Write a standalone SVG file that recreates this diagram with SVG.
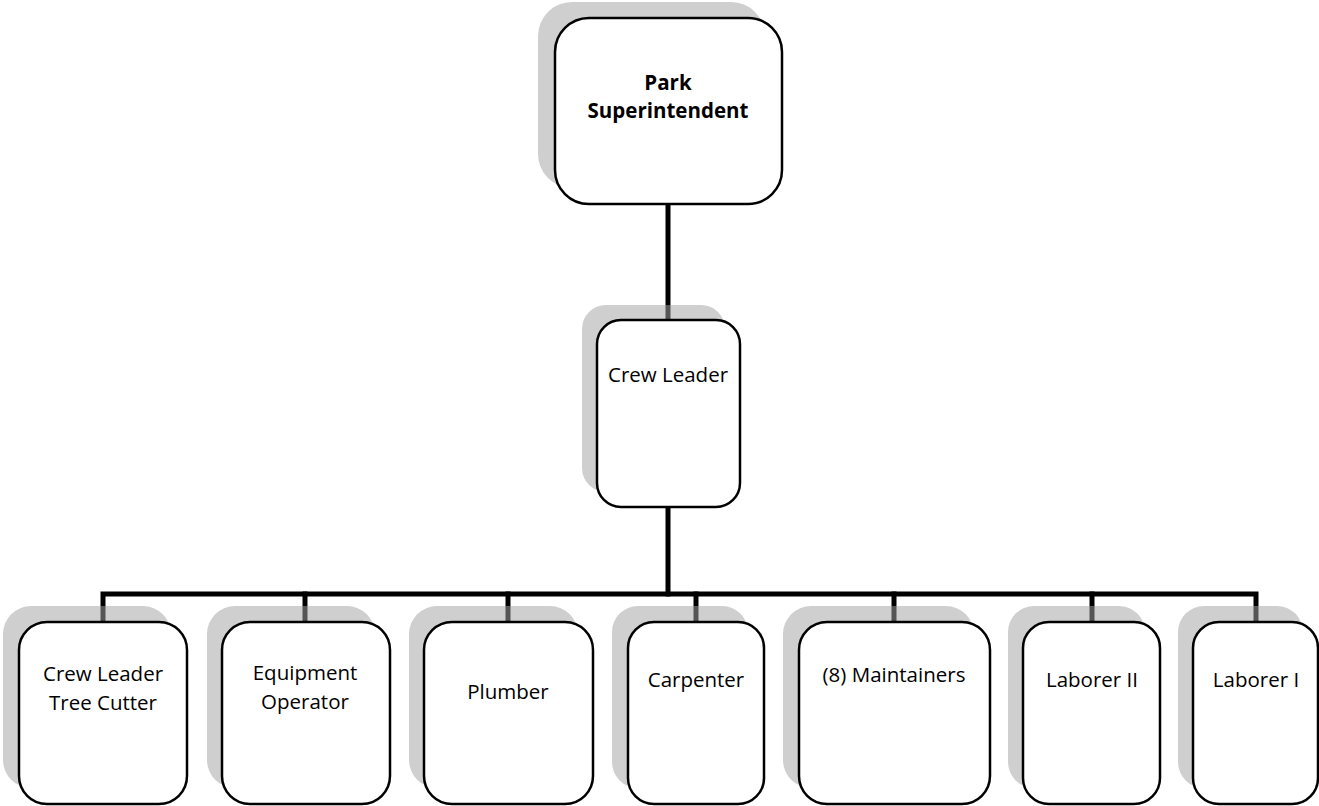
<svg xmlns="http://www.w3.org/2000/svg" width="1319" height="806" viewBox="0 0 1319 806">
<style>
.bg{fill:#ffffff}
.conn{stroke:#000;stroke-width:5;fill:none;stroke-linecap:square}
.sh{fill:#a3a3a3;fill-opacity:0.52}
.box{fill:#fff;stroke:#000;stroke-width:2.5}
.t{font-family:"Open Sans","Liberation Sans",sans-serif;font-size:20.5px;fill:#000;text-anchor:middle}
.b{font-weight:bold;font-size:20.5px}
</style>
<rect class="bg" x="0" y="0" width="1319" height="806"/>
<g id="connectors">
<line class="conn" x1="668" y1="205" x2="668" y2="320"/>
<line class="conn" x1="668" y1="507" x2="668" y2="594"/>
<polyline class="conn" points="103,620 103,594 1256,594 1256,620"/>
<line class="conn" x1="305" y1="594" x2="305" y2="620"/>
<line class="conn" x1="508" y1="594" x2="508" y2="620"/>
<line class="conn" x1="696" y1="594" x2="696" y2="620"/>
<line class="conn" x1="894" y1="594" x2="894" y2="620"/>
<line class="conn" x1="1092" y1="594" x2="1092" y2="620"/>
</g>
<g id="park-superintendent">
<rect class="sh" x="538" y="2" width="227" height="186" rx="34"/>
<rect class="box" x="555" y="18" width="227" height="186" rx="34" stroke-width="3"/>
<text class="t b" x="668" y="90">Park</text>
<text class="t b" x="668" y="118">Superintendent</text>
</g>
<g id="crew-leader">
<rect class="sh" x="582" y="305" width="143" height="187" rx="24"/>
<rect class="box" x="597" y="320" width="143" height="187" rx="24"/>
<text class="t" x="668" y="382">Crew Leader</text>
</g>
<g id="crew-leader-tree-cutter">
<rect class="sh" x="3" y="606" width="168" height="182" rx="28"/>
<rect class="box" x="19" y="622" width="168" height="182" rx="28"/>
<text class="t" x="103" y="681">Crew Leader</text>
<text class="t" x="103" y="710">Tree Cutter</text>
</g>
<g id="equipment-operator">
<rect class="sh" x="207" y="606" width="168" height="182" rx="28"/>
<rect class="box" x="222" y="622" width="168" height="182" rx="28"/>
<text class="t" x="305" y="680">Equipment</text>
<text class="t" x="305" y="709">Operator</text>
</g>
<g id="plumber">
<rect class="sh" x="409" y="606" width="169" height="182" rx="28"/>
<rect class="box" x="424" y="622" width="169" height="182" rx="28"/>
<text class="t" x="508" y="699">Plumber</text>
</g>
<g id="carpenter">
<rect class="sh" x="612" y="606" width="136" height="182" rx="26"/>
<rect class="box" x="628" y="622" width="136" height="182" rx="26"/>
<text class="t" x="696" y="687">Carpenter</text>
</g>
<g id="maintainers">
<rect class="sh" x="783" y="606" width="191" height="182" rx="28"/>
<rect class="box" x="799" y="622" width="191" height="182" rx="28"/>
<text class="t" x="894" y="682">(8) Maintainers</text>
</g>
<g id="laborer-ii">
<rect class="sh" x="1008" y="606" width="137" height="182" rx="26"/>
<rect class="box" x="1023" y="622" width="137" height="182" rx="26"/>
<text class="t" x="1092" y="687">Laborer II</text>
</g>
<g id="laborer-i">
<rect class="sh" x="1178" y="606" width="125" height="182" rx="26"/>
<rect class="box" x="1193" y="622" width="125" height="182" rx="26"/>
<text class="t" x="1256" y="687">Laborer I</text>
</g>
</svg>
